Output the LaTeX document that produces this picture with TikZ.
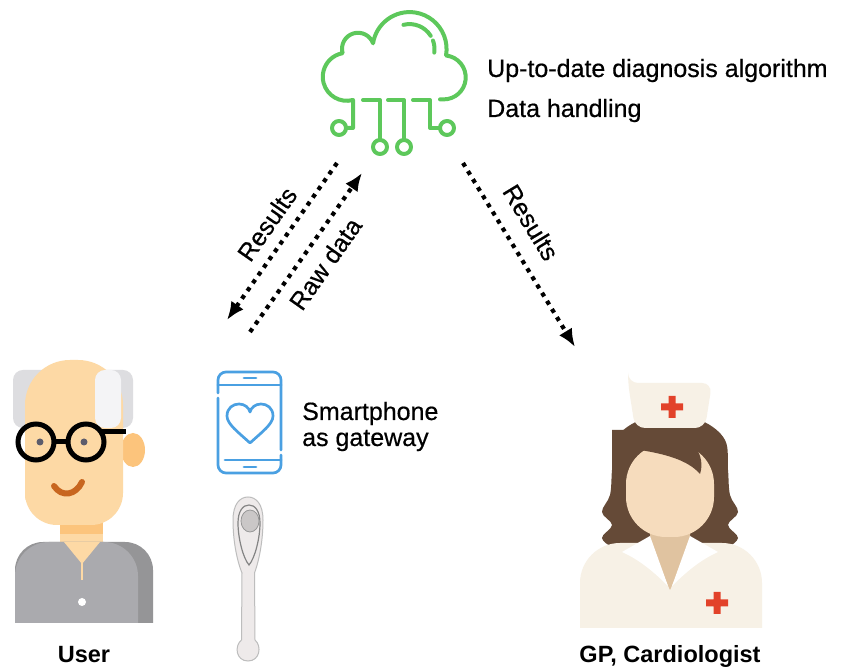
\documentclass[tikz,border=0pt]{standalone}
\usepackage{fontspec}
\setmainfont{Liberation Sans}
\newfontfamily\medium{Liberation Sans}[FakeBold=0.5]
\usetikzlibrary{arrows.meta}

\definecolor{cloudgreen}{HTML}{5DC85B}
\definecolor{phoneblue}{HTML}{4AA0E2}
\definecolor{skin}{HTML}{FDD9A5}
\definecolor{skinshade}{HTML}{FCC47C}
\definecolor{hairgrey}{HTML}{DDDDE0}
\definecolor{hairwhite}{HTML}{F4F4F6}
\definecolor{shirt}{HTML}{AAAAAE}
\definecolor{shirtdark}{HTML}{959597}
\definecolor{mouth}{HTML}{C8661F}
\definecolor{eyegrey}{HTML}{5C5C6C}
\definecolor{nursehair}{HTML}{654A37}
\definecolor{nurseface}{HTML}{F6DCBD}
\definecolor{nurseneck}{HTML}{E0C3A0}
\definecolor{coat}{HTML}{F7F1E6}
\definecolor{crossred}{HTML}{E2422A}
\definecolor{stickfill}{HTML}{EEEAEA}
\definecolor{stickline}{HTML}{BDBDBD}

\begin{document}
\begin{tikzpicture}[x=1pt,y=1pt,
	wire/.style={cloudgreen, line width=4pt, line cap=round, line join=round},
	phone/.style={phoneblue, line width=2.7pt, line cap=round},
	dots/.style={line width=4.2pt, dash pattern=on 4.2pt off 5.3pt, -{Latex[length=18pt,width=15pt]}},
	desc/.style={font=\medium\fontsize{25}{30}\selectfont, inner sep=0pt, anchor=base west},
	who/.style={font=\bfseries\fontsize{23.5}{28}\selectfont, inner sep=0pt, anchor=base},
	lbl/.style={font=\medium\fontsize{25}{30}\selectfont, sloped, inner sep=4pt}]
	\useasboundingbox (0,0) rectangle (843,668);
	\fill[white] (0,0) rectangle (843,668);

	% cloud with its circuit wires
	\draw[wire] (346,540) -- (353,540) -- (353,568)
		arc[start angle=285,end angle=100,radius=24]
		arc[start angle=196,end angle=20,radius=16]
		arc[start angle=171,end angle=-10,radius=37]
		arc[start angle=84,end angle=-90,radius=22] -- (440,568.6);
	\draw[wire] (409.5,618.9) ++(104:25) arc[start angle=104,end angle=32,radius=25];
	\draw[wire] (409.5,618.9) ++(20:25) arc[start angle=20,end angle=-8,radius=25];
	\draw[wire] (363,568) -- (380,568) -- (380,528);
	\draw[wire] (388,568) -- (404,568) -- (404,528);
	\draw[wire] (413,568) -- (430,568) -- (430,540) -- (440,540);
	\draw[wire] (339,540) circle (7) (380,521) circle (7) (404,521) circle (7) (447,540) circle (7);

	\node[desc] (algo) at (487,591) {Up-to-date diagnosis algorithm};
	\node[desc] (handling) at (487,551) {Data handling};

	% user
	\fill[hairgrey, rounded corners=10] (13,240) rectangle (133,298);
	\fill[skinshade] (133,218) ellipse [x radius=12, y radius=17];
	\fill[skin] (60,108) rectangle (103,150);
	\fill[skinshade] (60,134) rectangle (103,150);
	\fill[shirtdark] (15,45) [rounded corners=28] -- (15,126) -- (153,126) [sharp corners] -- (153,45) -- cycle;
	\fill[shirt] (15,45) [rounded corners=34] -- (15,126) -- (138,126) [sharp corners] -- (138,45) -- cycle;
	\fill[skin] (64,126) -- (100,126) -- (82,104) -- cycle;
	\draw[skin, line width=2pt] (82,106) -- (82,88);
	\fill[white] (82,66) circle (4);
	\fill[skin] (25,200) [rounded corners=45] -- (25,308) -- (123,308) [rounded corners=32] -- (123,143) -- (25,143) -- cycle;
	\fill[hairwhite, rounded corners=10] (95,240) rectangle (121,298);
	\fill[eyegrey] (40,226) circle (3.5) (84,226) circle (3.5);
	\draw[line width=5pt] (36,226) circle (18) (86,226) circle (18);
	\draw[line width=5pt] (54,226) -- (68,226) (101,236) -- (126,236);
	\draw[mouth, line width=6pt, line cap=round] (54,182) .. controls (62,170) and (76,173) .. (82,186);
	\node[who] (user) at (84,5) {User};

	% smartphone
	\draw[phone] (218,270) [rounded corners=8] -- (218,195) -- (281,195) [sharp corners] -- (281,213);
	\draw[phone] (281,218) [rounded corners=8] -- (281,296) -- (218,296) [sharp corners] -- (218,275);
	\draw[phone] (218,283) -- (281,283) (225,208) -- (281,208);
	\draw[phone] (244,290) -- (256,290) (244,201) -- (256,201);
	\draw[phone, line join=round] (250,225) .. controls (238,236) and (227,244) .. (227,252)
		.. controls (227,260) and (233,264) .. (239,264) .. controls (245,264) and (249,260) .. (250,256)
		.. controls (251,260) and (255,264) .. (261,264) .. controls (267,264) and (273,260) .. (273,252)
		.. controls (273,244) and (262,236) .. (250,225) -- cycle;
	\node[desc] (phoneA) at (302,248) {Smartphone};
	\node[desc] (phoneB) at (302,222) {as gateway};

	% ECG stick
	\filldraw[fill=stickfill, draw=stickline, line width=1pt] (241.5,28) -- (242,95)
		.. controls (236,110) and (233,130) .. (233,148) .. controls (233,164) and (240,171) .. (248,171)
		.. controls (256,171) and (263,164) .. (263,148) .. controls (263,130) and (260,110) .. (254.5,95)
		-- (255,28) .. controls (262,22) and (260,7) .. (248,7) .. controls (236,7) and (234,22) .. (241.5,28) -- cycle;
	\draw[stickline!70!black, line width=1.2pt] (249,103) .. controls (243,110) and (238,130) .. (238,145)
		.. controls (238,157) and (243,163) .. (249,163) .. controls (255,163) and (260,157) .. (260,145)
		.. controls (260,130) and (255,110) .. (249,103) -- cycle;
	\filldraw[fill=stickfill!85!black, draw=stickline!80!black, line width=0.8pt] (250,147) ellipse [x radius=9, y radius=11];

	% nurse
	\fill[nursehair] plot[smooth cycle, tension=0.6] coordinates {(670,251) (702,247) (725,228) (728,198) (730,173)
		(738,156) (728,143) (738,130) (725,120) (700,116) (640,116) (615,120) (602,130) (612,143) (602,156)
		(610,173) (612,198) (615,228) (638,247)};
	\fill[coat] (580,40) [rounded corners=40] -- (580,125) -- (762,125) [sharp corners] -- (762,40) -- cycle;
	\fill[nurseneck] (650,148) -- (690,148) -- (690,123) -- (670,78) -- (650,123) -- cycle;
	\fill[white] (622,116) -- (650,132) -- (668,82) .. controls (655,95) and (640,108) .. (622,116) -- cycle;
	\fill[white] (718,116) -- (690,132) -- (672,82) .. controls (685,95) and (700,108) .. (718,116) -- cycle;
	\fill[nurseface, rounded corners=40] (626,131) rectangle (714,224);
	\fill[nursehair] (612,181) -- (622,181) .. controls (626,200) and (630,212) .. (640,218)
		.. controls (665,214) and (688,208) .. (700,194) .. controls (703,203) and (701,213) .. (696,220)
		-- (696,238) -- (612,238) -- cycle;
	\fill[coat] (628,285) [rounded corners=10] -- (712,285) -- (705,240) -- (635,240) -- (628,285) -- cycle;
	\fill[crossred, shift={(672,261)}] (-11,-3.5) rectangle (11,3.5) (-3.5,-11) rectangle (3.5,11);
	\fill[crossred, shift={(717,65)}] (-11,-3.5) rectangle (11,3.5) (-3.5,-11) rectangle (3.5,11);
	\node[who] (doctor) at (670,5) {GP, Cardiologist};

	% data flow
	\coordinate (cloudA) at (337,505);
	\coordinate (userA) at (227,348);
	\coordinate (phoneTop) at (250,336);
	\coordinate (cloudB) at (362,495);
	\coordinate (cloudC) at (463,505);
	\coordinate (doctorA) at (575,321);
	\draw[dots] (cloudA) -- node[lbl, above=7pt, pos=0.47] (res1) {Results} (userA);
	\draw[dots] (phoneTop) -- node[lbl, below=7pt, pos=0.51] (raw) {Raw data} (cloudB);
	\draw[dots] (cloudC) -- node[lbl, above=12pt, pos=0.40] (res2) {Results} (doctorA);
\end{tikzpicture}
\end{document}
